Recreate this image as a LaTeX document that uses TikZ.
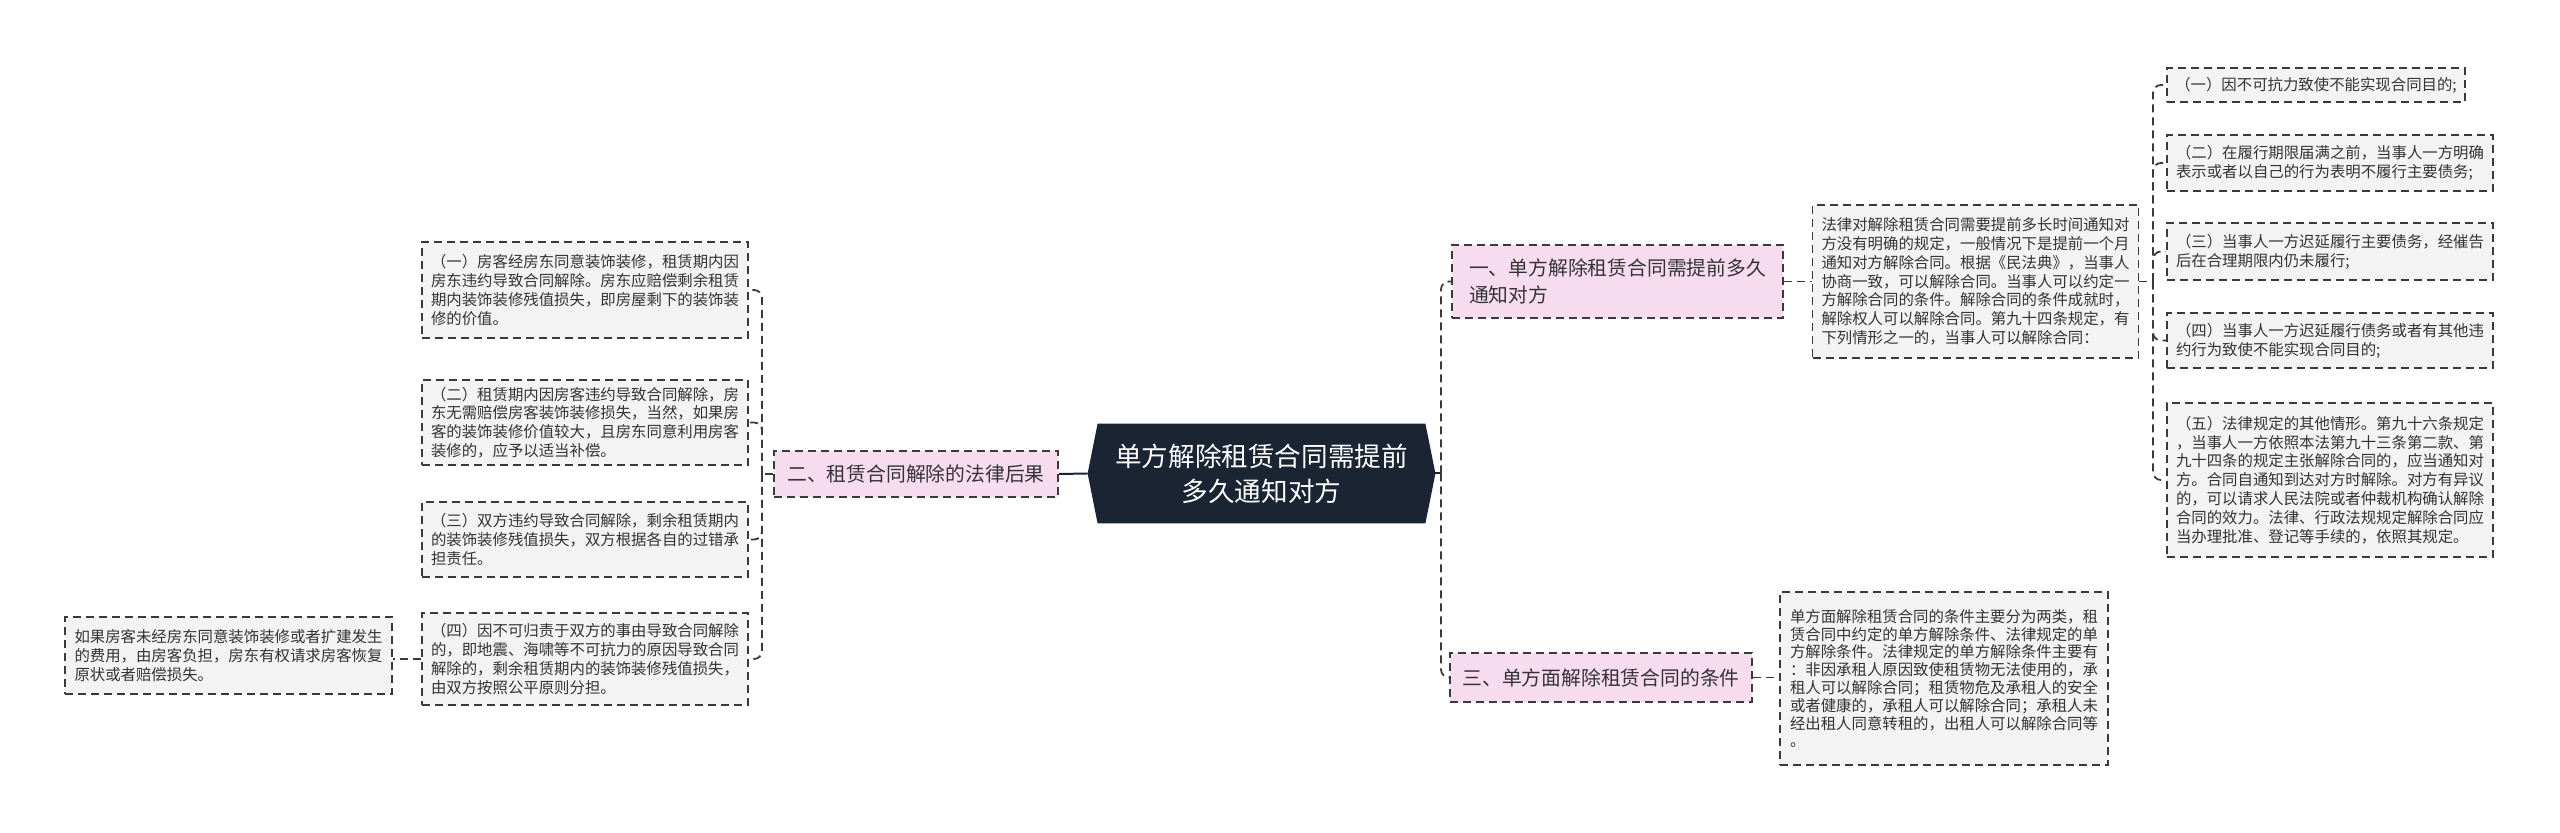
\documentclass[tikz,border=0pt]{standalone}
\usepackage{fontspec}
\setmainfont{Noto Sans CJK SC}
\usepackage{tikz}
\usetikzlibrary{calc, backgrounds}
\definecolor{rootfill}{HTML}{1B2433}
\definecolor{topicpink}{HTML}{F7DCF0}
\definecolor{leafgray}{HTML}{F3F3F3}
\definecolor{edgegray}{HTML}{3A3A3A}
\definecolor{textgray}{HTML}{333333}

\begin{document}
\begin{tikzpicture}[x=0.5pt, y=-0.5pt,
    topic/.style={rectangle, draw=edgegray, line width=0.9pt, dash pattern=on 4pt off 2.5pt, fill=topicpink, align=left, text=textgray, inner sep=0pt, font=\fontsize{9.9}{13.3}\selectfont},
    leaf/.style={rectangle, draw=edgegray, line width=0.9pt, dash pattern=on 4pt off 2.5pt, fill=leafgray, align=left, text=textgray, inner sep=0pt, minimum width=163pt, font=\fontsize{7.7}{9.4}\selectfont},
    link/.style={draw=edgegray, line width=0.9pt, dash pattern=on 4pt off 2.5pt, rounded corners=4pt},
    trunk/.style={draw=rootfill, line width=1pt}
]
\useasboundingbox (0,0) rectangle (2560,833);

\node[text=white, align=center, minimum width=163.5pt, minimum height=49.5pt, font=\fontsize{13.3}{17.5}\selectfont] (root) at (1261.5,473.5) {单方解除租赁合同需提前\\多久通知对方};
\coordinate (rootW) at ([xshift=-5pt]root.west);
\coordinate (rootE) at ([xshift=5pt]root.east);
\begin{scope}[on background layer]
\fill[rootfill] (rootW) -- (root.north west) -- (root.north east) -- (rootE) -- (root.south east) -- (root.south west) -- cycle;
\end{scope}

\node[topic, minimum width=165.5pt, minimum height=36.5pt] (t1) at (1617.5,281.5) {一、单方解除租赁合同需提前多久\\通知对方};
\node[topic, minimum width=142pt, minimum height=23pt] (t2) at (916,474) {二、租赁合同解除的法律后果};
\node[topic, minimum width=151pt, minimum height=24.5pt] (t3) at (1601,677.5) {三、单方面解除租赁合同的条件};

\node[leaf, minimum height=76.5pt] (r0) at (1975.5,281.5) {法律对解除租赁合同需要提前多长时间通知对\\方没有明确的规定，一般情况下是提前一个月\\通知对方解除合同。根据《民法典》，当事人\\协商一致，可以解除合同。当事人可以约定一\\方解除合同的条件。解除合同的条件成就时，\\解除权人可以解除合同。第九十四条规定，有\\下列情形之一的，当事人可以解除合同：};
\node[leaf, minimum width=149pt, minimum height=17pt] (r1) at (2316,85) {（一）因不可抗力致使不能实现合同目的;};
\node[leaf, minimum height=28pt] (r2) at (2330,163) {（二）在履行期限届满之前，当事人一方明确\\表示或者以自己的行为表明不履行主要债务;};
\node[leaf, minimum height=28.5pt] (r3) at (2330,251.5) {（三）当事人一方迟延履行主要债务，经催告\\后在合理期限内仍未履行;};
\node[leaf, minimum height=27.5pt] (r4) at (2330,340.5) {（四）当事人一方迟延履行债务或者有其他违\\约行为致使不能实现合同目的;};
\node[leaf, minimum height=77pt] (r5) at (2330,480) {（五）法律规定的其他情形。第九十六条规定\\，当事人一方依照本法第九十三条第二款、第\\九十四条的规定主张解除合同的，应当通知对\\方。合同自通知到达对方时解除。对方有异议\\的，可以请求人民法院或者仲裁机构确认解除\\合同的效力。法律、行政法规规定解除合同应\\当办理批准、登记等手续的，依照其规定。};
\node[leaf, minimum width=164pt, minimum height=86.5pt, font=\fontsize{7.7}{8.9}\selectfont] (t3x) at (1944,678.5) {单方面解除租赁合同的条件主要分为两类，租\\赁合同中约定的单方解除条件、法律规定的单\\方解除条件。法律规定的单方解除条件主要有\\：非因承租人原因致使租赁物无法使用的，承\\租人可以解除合同；租赁物危及承租人的安全\\或者健康的，承租人可以解除合同；承租人未\\经出租人同意转租的，出租人可以解除合同等\\。};

\node[leaf, minimum height=48pt] (l1) at (585,290) {（一）房客经房东同意装饰装修，租赁期内因\\房东违约导致合同解除。房东应赔偿剩余租赁\\期内装饰装修残值损失，即房屋剩下的装饰装\\修的价值。};
\node[leaf, minimum height=42.5pt] (l2) at (585,422.5) {（二）租赁期内因房客违约导致合同解除，房\\东无需赔偿房客装饰装修损失，当然，如果房\\客的装饰装修价值较大，且房东同意利用房客\\装修的，应予以适当补偿。};
\node[leaf, minimum height=37.5pt] (l3) at (585,539.5) {（三）双方违约导致合同解除，剩余租赁期内\\的装饰装修残值损失，双方根据各自的过错承\\担责任。};
\node[leaf, minimum height=46pt] (l4) at (585,659) {（四）因不可归责于双方的事由导致合同解除\\的，即地震、海啸等不可抗力的原因导致合同\\解除的，剩余租赁期内的装饰装修残值损失，\\由双方按照公平原则分担。};
\node[leaf, minimum width=163.5pt, minimum height=38.5pt] (ll) at (228.5,655.5) {如果房客未经房东同意装饰装修或者扩建发生\\的费用，由房客负担，房东有权请求房客恢复\\原状或者赔偿损失。};

\coordinate (rj) at (1441,473.5);
\coordinate (lj) at (762,474);
\coordinate (r0j) at (2153,281.5);

\draw[trunk] (rootW) -- (t2.east);
\draw[trunk] (rootE) -- (rj);
\draw[link] (rj) |- (t1.west);
\draw[link] (rj) |- (t3.west);
\draw[link] (t2.west) -- (lj);
\foreach \n in {l1,l2,l3,l4}
    \draw[link] (lj) |- (\n.east);
\draw[link] (l4.west) -- (l4.west -| ll.east);
\draw[link] (t1.east) -- (r0.west);
\draw[link] (r0.east) -- (r0j);
\foreach \n in {r1,r2,r3,r4,r5}
    \draw[link] (r0j) |- (\n.west);
\draw[link] (t3.east) -- (t3.east -| t3x.west);

\end{tikzpicture}
\end{document}
